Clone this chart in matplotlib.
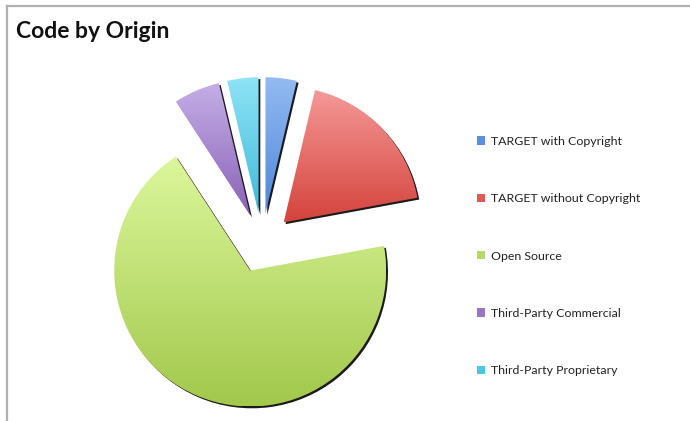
import numpy as np
import matplotlib
matplotlib.use("Agg")
import matplotlib.pyplot as plt
from matplotlib.patches import Wedge, Patch
from matplotlib.colors import to_rgb

# ---- data ----
labels = ["TARGET with Copyright", "TARGET without Copyright", "Open Source",
          "Third-Party Commercial", "Third-Party Proprietary"]
values = [3.7, 18.4, 68.7, 5.5, 3.7]
title = "Code by Origin"

# gradient colours (top, bottom) per slice
top_colors = ["#93bbf2", "#f59a98", "#dcf79c", "#c4aee6", "#8fe3f5"]
bot_colors = ["#4f86d9", "#d4433c", "#a2c84c", "#8a62b8", "#3dbbd9"]
legend_colors = ["#5b8ee0", "#e05a55", "#b5d86a", "#9a74c6", "#4cc6e2"]

W, H = 690, 421
fig = plt.figure(figsize=(W / 100, H / 100), dpi=100)
fig.patch.set_facecolor("white")

# frame lines (top and left)
fig.add_artist(plt.Line2D([7 / W, 1], [1 - 6 / H, 1 - 6 / H], color="#b0b0b0", lw=1.6))
fig.add_artist(plt.Line2D([7 / W, 7 / W], [0, 1 - 6 / H], color="#b0b0b0", lw=1.6))

fig.text(16 / W, 1 - 31 / H, title, fontsize=16.5, fontweight="bold",
         family=["Lato", "DejaVu Sans"], va="center", ha="left", color="#111111")

# pie axes: centre at pixel (262,243), radius 136 px
cx, cy, R = 262, 243, 136
half = 185
ax = fig.add_axes([(cx - half) / W, (H - cy - half) / H, 2 * half / W, 2 * half / H])
lim = half / R

wedges, _ = ax.pie(values, explode=[0.22] * 5, startangle=90, counterclock=False,
                   radius=1, colors=["none"] * 5, wedgeprops=dict(linewidth=0))

off = 1.8 / R
for i, w in enumerate(wedges):
    c = w.center
    sh = Wedge((c[0] + off, c[1] - off), w.r, w.theta1, w.theta2,
               facecolor="#1a1a1a", edgecolor="none", zorder=1)
    ax.add_patch(sh)
    ext = w.get_path().transformed(w.get_patch_transform()).get_extents()
    x0, y0, x1, y1 = ext.x0, ext.y0, ext.x1, ext.y1
    t = np.array(to_rgb(top_colors[i]))
    b = np.array(to_rgb(bot_colors[i]))
    n = 256
    f = np.linspace(0, 1, n)[:, None]
    grad = (t * (1 - f) + b * f)[:, None, :]
    im = ax.imshow(grad, extent=[x0, x1, y0, y1], origin="upper", aspect="auto",
                   zorder=2, interpolation="bilinear")
    im.set_clip_path(w)

ax.set_xlim(-lim, lim)
ax.set_ylim(-lim, lim)
ax.set_aspect("equal")
ax.axis("off")

# legend
handles = [Patch(facecolor=col, edgecolor="none") for col in legend_colors]
leg = fig.legend(handles, labels, loc="center left", bbox_to_anchor=(471 / W, 1 - 256 / H),
                 frameon=False, prop=dict(family=["Lato", "DejaVu Sans"], size=8.9),
                 handlelength=0.65, handleheight=0.65, handletextpad=0.5,
                 labelspacing=3.75, borderpad=0)
for txt in leg.get_texts():
    txt.set_color("#222222")

fig.savefig("out.png", dpi=100, facecolor="white")
